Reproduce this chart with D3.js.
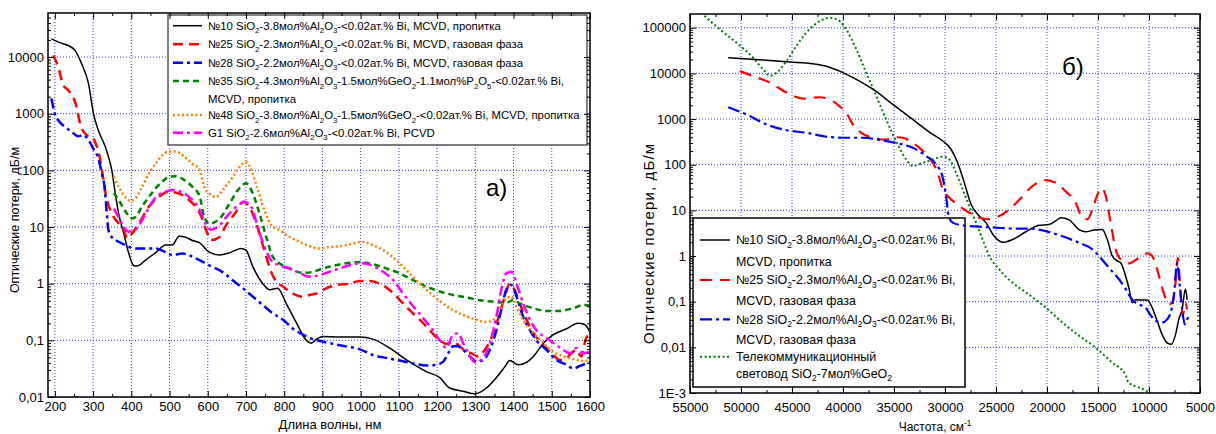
<!DOCTYPE html>
<html><head><meta charset="utf-8">
<script src="https://cdn.jsdelivr.net/npm/d3@7"></script>
<style>body{margin:0;background:#fff}svg{display:block}text{font-family:"Liberation Sans",Arial,sans-serif;fill:#000}</style>
</head><body><svg id="c" width="1216" height="434"></svg>
<script>
// ---------------- DATA: left panel (wavelength nm, loss dB/m) ----------------
const L_no10 = [[191,21000],[213,18000],[235,16000],[253,13000],[270,7600],[288,3400],[301,1000],[314,500],[332,260],[340,175],[349,100],[358,39],[367,17],[380,7.8],[393,3.5],[406,2.1],[415,2.05],[437,2.6],[463,3.5],[490,4.8],[507,4.8],[525,6.9],[542,6.6],[560,5.8],[578,5.3],[604,3.6],[631,3.2],[657,3.5],[687,4.2],[700,3.9],[718,2.0],[744,1.0],[762,0.78],[783,0.83],[805,0.45],[831,0.21],[858,0.10],[871,0.089],[884,0.105],[901,0.117],[945,0.114],[997,0.114],[1032,0.105],[1076,0.073],[1120,0.045],[1172,0.028],[1207,0.022],[1233,0.0144],[1268,0.0126],[1299,0.0114],[1329,0.0144],[1355,0.022],[1377,0.034],[1390,0.044],[1412,0.037],[1434,0.041],[1452,0.052],[1478,0.089],[1504,0.126],[1539,0.16],[1569,0.2],[1586,0.19],[1600,0.14]];
const L_no25 = [[196,10700],[209,6600],[222,3200],[235,2600],[257,1300],[266,670],[283,420],[297,390],[310,260],[319,150],[327,67],[336,30],[345,20],[354,15],[367,11.6],[380,8.9],[389,6.3],[402,7.7],[420,11.6],[446,23],[472,34],[498,42],[525,39],[551,30],[568,23],[582,16],[596,8.7],[609,5.9],[631,6.7],[648,10.8],[674,18.5],[692,28],[709,22.5],[727,11.5],[740,5.9],[753,3.0],[766,1.6],[779,1.09],[797,0.89],[814,0.73],[831,0.63],[849,0.59],[866,0.63],[884,0.67],[910,0.83],[936,0.95],[971,1.0],[997,1.12],[1024,1.12],[1050,1.0],[1076,0.77],[1102,0.52],[1128,0.34],[1155,0.23],[1181,0.15],[1207,0.10],[1224,0.087],[1242,0.095],[1259,0.078],[1277,0.063],[1290,0.059],[1307,0.052],[1325,0.068],[1347,0.134],[1364,0.3],[1377,0.59],[1390,1.0],[1403,0.77],[1416,0.45],[1434,0.23],[1452,0.134],[1469,0.095],[1486,0.073],[1504,0.055],[1521,0.045],[1539,0.049],[1551,0.059],[1564,0.068],[1577,0.052],[1590,0.11],[1600,0.126]];
const L_no28 = [[191,1850],[200,1000],[213,710],[226,590],[244,480],[261,400],[275,420],[288,340],[301,240],[314,160],[323,88],[330,51],[336,17],[340,8.9],[349,6.6],[367,5.5],[384,4.8],[411,4.2],[437,4.2],[463,4.2],[490,3.6],[507,3.2],[534,3.4],[569,2.8],[604,2.1],[639,1.6],[665,1.15],[692,0.83],[718,0.59],[744,0.42],[770,0.3],[797,0.23],[823,0.16],[849,0.126],[875,0.105],[901,0.095],[927,0.087],[962,0.078],[997,0.07],[1032,0.055],[1067,0.049],[1102,0.044],[1137,0.039],[1172,0.036],[1198,0.037],[1216,0.042],[1229,0.059],[1242,0.079],[1255,0.079],[1268,0.068],[1286,0.052],[1303,0.042],[1321,0.045],[1338,0.068],[1355,0.15],[1368,0.35],[1381,0.78],[1394,0.95],[1408,0.59],[1425,0.26],[1443,0.15],[1460,0.10],[1486,0.068],[1512,0.045],[1539,0.037],[1556,0.032],[1573,0.035],[1590,0.039],[1600,0.041]];
const L_no35 = [[354,40],[367,30],[380,21],[393,16],[402,14.2],[411,15],[428,23],[446,34],[463,48],[481,63],[498,77],[516,79],[538,68],[560,51],[578,36],[591,15],[604,11.5],[631,14],[657,26],[679,45],[700,59],[718,39],[735,17.5],[753,6.7],[770,3.0],[797,2.1],[823,1.75],[849,1.55],[875,1.62],[901,1.86],[927,2.05],[962,2.3],[997,2.4],[1032,2.2],[1067,1.86],[1102,1.52],[1137,1.16],[1172,0.89],[1207,0.73],[1242,0.63],[1277,0.57],[1312,0.51],[1347,0.48],[1381,0.46],[1399,0.51],[1416,0.45],[1451,0.37],[1486,0.33],[1521,0.33],[1556,0.37],[1582,0.42],[1600,0.41]];
const L_no48 = [[354,77],[367,51],[384,34],[398,29],[411,32],[428,51],[446,88],[463,130],[481,185],[498,215],[516,215],[538,175],[560,130],[578,105],[591,51],[604,39],[622,34],[639,45],[665,76],[687,123],[700,140],[714,100],[731,45],[748,20],[766,10.8],[788,8.8],[814,6.7],[840,5.5],[866,4.6],[892,4.2],[918,4.4],[945,4.6],[980,5.1],[1002,5.5],[1024,5.0],[1059,3.9],[1093,2.6],[1128,1.52],[1163,0.89],[1198,0.55],[1233,0.37],[1268,0.28],[1303,0.23],[1329,0.21],[1347,0.23],[1364,0.35],[1381,0.55],[1394,0.59],[1408,0.39],[1425,0.23],[1452,0.134],[1478,0.089],[1504,0.063],[1530,0.052],[1556,0.047],[1582,0.043],[1600,0.045]];
const L_g1 = [[354,21],[367,15],[380,10],[393,8.3],[406,8.5],[420,10.7],[437,17],[455,28],[472,37],[490,42],[507,45],[529,42],[551,34],[570,25],[582,18],[596,10.8],[609,9],[631,10.8],[657,17.5],[679,24],[696,28],[714,22.5],[731,10],[748,4.5],[766,2.6],[788,2.1],[814,1.86],[840,1.55],[866,1.32],[892,1.41],[918,1.62],[945,1.86],[980,2.2],[1006,2.3],[1032,2.05],[1059,1.62],[1085,1.15],[1111,0.67],[1137,0.4],[1163,0.25],[1189,0.15],[1207,0.10],[1224,0.073],[1242,0.126],[1255,0.134],[1268,0.089],[1286,0.052],[1299,0.041],[1321,0.049],[1338,0.089],[1355,0.26],[1368,0.78],[1381,1.52],[1394,1.62],[1408,1.0],[1425,0.45],[1443,0.23],[1460,0.15],[1486,0.11],[1512,0.083],[1530,0.068],[1547,0.059],[1564,0.073],[1582,0.059],[1600,0.063]];

// ---------------- DATA: right panel (frequency cm-1, loss dB/m) ----------------
const R_no10 = [[51250,22000],[47830,19600],[45220,17800],[42940,16300],[41630,14400],[40330,11200],[38700,7400],[37070,4500],[35110,2100],[33160,980],[31530,520],[30220,330],[29410,218],[28760,110],[28100,40],[27450,13.6],[26800,8.2],[25990,5.4],[25170,2.7],[24360,2.0],[23380,2.3],[22070,3.4],[20770,4.7],[19790,4.9],[19140,5.9],[18650,6.9],[17840,6.2],[16860,3.8],[16210,3.4],[15390,3.7],[14580,3.8],[14090,2.3],[13600,1.0],[13110,0.78],[12780,0.71],[12290,0.36],[11970,0.2],[11640,0.095],[11320,0.11],[10830,0.109],[10170,0.109],[9690,0.074],[9200,0.038],[8710,0.019],[8220,0.0126],[7800,0.0117],[7400,0.019],[7080,0.041],[6750,0.068],[6430,0.19],[6260,0.11]];
const R_no25 = [[50110,11200],[48800,8700],[47170,6300],[45540,3800],[43910,2800],[42280,3000],[41300,2700],[40330,1900],[39680,1370],[39030,760],[38210,500],[37070,390],[35770,355],[34790,400],[34130,390],[33160,300],[32180,200],[31200,110],[30710,66],[30220,29],[29570,19],[28590,12.4],[27620,8.9],[26640,6.9],[25660,6.4],[24680,7.5],[23700,10.5],[22730,17],[21420,34],[20120,46],[19140,40],[18160,26],[17180,14.6],[16530,6.9],[16040,6.4],[15550,10.5],[15060,22],[14640,31],[14250,21],[13760,5.4],[13270,1.4],[12780,0.85],[11970,0.69],[10990,0.91],[10170,1.14],[9690,1.0],[9200,0.51],[8710,0.2],[8320,0.11],[8060,0.087],[7730,0.095],[7400,0.26],[7170,0.91],[6910,0.16],[6690,0.049],[6430,0.095],[6260,0.068]];
const R_no28 = [[51250,1820],[49460,1260],[47500,760],[45540,570],[43590,500],[41630,410],[39680,390],[38050,390],[36420,350],[34790,300],[33160,235],[31850,155],[30870,102],[30220,52],[29890,20],[29640,7.5],[29250,5.4],[28270,4.7],[26640,4.4],[25010,4.2],[23380,4.0],[21750,4.0],[20120,3.5],[18490,2.7],[16860,1.95],[15550,1.4],[14740,0.91],[13920,0.55],[12940,0.31],[12290,0.19],[11640,0.11],[10990,0.087],[10340,0.074],[9950,0.055],[9360,0.038],[8710,0.035],[8220,0.041],[7890,0.057],[7570,0.13],[7240,0.71],[7010,0.26],[6750,0.068],[6490,0.032],[6260,0.041],[5940,0.052]];
const R_tele = [[54500,300000],[53700,195000],[52070,92000],[50440,47000],[48810,22000],[47830,12300],[47170,8900],[46520,10300],[45540,18600],[44570,40000],[43590,78000],[42280,140000],[41300,165000],[40330,140000],[39680,92000],[38700,34000],[37720,10300],[36740,3200],[35770,980],[34790,330],[33810,130],[33160,94],[32180,110],[31200,130],[30220,150],[29570,130],[28920,67],[28270,29],[27620,12.4],[26960,5.4],[26310,2.3],[25660,1.0],[24680,0.51],[23380,0.26],[22070,0.16],[20120,0.074],[18490,0.035],[16860,0.018],[15230,0.0098],[13600,0.0046],[12290,0.0025],[12040,0.0017],[10500,0.0012],[9900,0.001],[8000,0.0006],[6500,0.0006],[5900,0.0009],[5750,0.00115]];

// ---------------- tick labels & legend texts ----------------
const L_xTicks = [200,300,400,500,600,700,800,900,1000,1100,1200,1300,1400,1500,1600];
const L_yTicks = [0.01,0.1,1,10,100,1000,10000];
const L_yTickLabels = ["0,01","0,1","1","10","100","1000","10000"];
const R_xTicks = [55000,50000,45000,40000,35000,30000,25000,20000,15000,10000,5000];
const R_yTicks = [0.001,0.01,0.1,1,10,100,1000,10000,100000];
const R_yTickLabels = ["1E-3","0,01","0,1","1","10","100","1000","10000","100000"];
const L_legend = [
  "№10 SiO_{2}-3.8мол%Al_{2}O_{3}-<0.02ат.% Bi, MCVD, пропитка",
  "№25 SiO_{2}-2.3мол%Al_{2}O_{3}-<0.02ат.% Bi, MCVD, газовая фаза",
  "№28 SiO_{2}-2.2мол%Al_{2}O_{3}-<0.02ат.% Bi, MCVD, газовая фаза",
  "№35 SiO_{2}-4.3мол%Al_{2}O_{3}-1.5мол%GeO_{2}-1.1мол%P_{2}O_{5}-<0.02ат.% Bi,",
  "MCVD, пропитка",
  "№48 SiO_{2}-3.8мол%Al_{2}O_{3}-1.5мол%GeO_{2}-<0.02ат.% Bi, MCVD, пропитка",
  "G1 SiO_{2}-2.6мол%Al_{2}O_{3}-<0.02ат.% Bi, PCVD"];
const R_legend = [
  "№10 SiO_{2}-3.8мол%Al_{2}O_{3}-<0.02ат.% Bi,",
  "MCVD, пропитка",
  "№25 SiO_{2}-2.3мол%Al_{2}O_{3}-<0.02ат.% Bi,",
  "MCVD, газовая фаза",
  "№28 SiO_{2}-2.2мол%Al_{2}O_{3}-<0.02ат.% Bi,",
  "MCVD, газовая фаза",
  "Телекоммуникационный",
  "световод SiO_{2}-7мол%GeO_{2}"];

// ---------------- styles ----------------
const ST = {
  black:  {stroke:"#000000", w:1.5, dash:null},
  red:    {stroke:"#ff0000", w:2.5, dash:"10,6"},
  blue:   {stroke:"#0000ff", w:2.5, dash:"10,4,3,4"},
  green:  {stroke:"#008000", w:2.5, dash:"6,4"},
  orange: {stroke:"#ff8000", w:2.5, dash:"2,2.5"},
  magenta:{stroke:"#ff00ff", w:2.5, dash:"10,4,3,4"},
  rred:   {stroke:"#ff0000", w:2.2, dash:"12,8"},
  rblue:  {stroke:"#0000ff", w:2.2, dash:"12,4,3,4"},
  rgreen: {stroke:"#008000", w:2, dash:"2,2.5"}
};

const svg = d3.select("#c");
svg.append("rect").attr("width",1216).attr("height",434).attr("fill","#fff");
const defs = svg.append("defs");

function rich(t, str, fs){
  const parts = str.match(/_\{[^}]*\}|\^\{[^}]*\}|[^_^]+/g);
  let off = 0;
  parts.forEach(p=>{
    let target=0, s=p, size=fs;
    if(p.startsWith("_{")){ s=p.slice(2,-1); target=fs*0.3; size=fs*0.68; }
    else if(p.startsWith("^{")){ s=p.slice(2,-1); target=-fs*0.42; size=fs*0.68; }
    t.append("tspan").attr("dy", (target-off).toFixed(2)).style("font-size", size+"px").text(s);
    off = target;
  });
}
function styleLine(sel, st){
  sel.attr("fill","none").attr("stroke",st.stroke).attr("stroke-width",st.w)
     .attr("stroke-linejoin","round");
  if(st.dash) sel.attr("stroke-dasharray", st.dash);
}
function minors(lo, hi){
  const out=[];
  for(let e=Math.floor(Math.log10(lo)); e<=Math.ceil(Math.log10(hi)); e++)
    for(let m=2;m<=9;m++){ const v=m*Math.pow(10,e); if(v>lo && v<hi) out.push(v); }
  return out;
}

function panel(cfg){
  const x=cfg.x, y=cfg.y;
  const X0=Math.min(...x.range()), X1=Math.max(...x.range());
  const Yb=y.range()[0], Yt=y.range()[1];
  defs.append("clipPath").attr("id",cfg.id).append("rect")
    .attr("x",X0).attr("y",Yt).attr("width",X1-X0).attr("height",Yb-Yt);
  const g = svg.append("g");
  const grid = g.append("g").attr("stroke","#3a3aff").attr("stroke-width",1).attr("stroke-dasharray","1,2");
  cfg.xTicks.forEach(v=>grid.append("line").attr("x1",x(v)).attr("x2",x(v)).attr("y1",Yt).attr("y2",Yb));
  cfg.yTicks.forEach(v=>grid.append("line").attr("x1",X0).attr("x2",X1).attr("y1",y(v)).attr("y2",y(v)));
  const lb = cfg.legend;
  g.append("rect").attr("x",lb.x).attr("y",lb.y).attr("width",lb.w).attr("height",lb.h)
    .attr("fill","#fff").attr("stroke",lb.border).attr("stroke-width",lb.bw);
  const line = d3.line().x(d=>x(d[0])).y(d=>y(d[1])).curve(d3.curveMonotoneX);
  const cg = g.append("g").attr("clip-path",`url(#${cfg.id})`);
  cfg.series.forEach(s=>{
    const data = s.data.slice().sort((a,b)=>x(a[0])-x(b[0]));
    styleLine(cg.append("path").attr("d",line(data)), s.st);
  });
  lb.rows.forEach(r=>{
    if(r.st){
      styleLine(g.append("line").attr("x1",lb.sx0).attr("x2",lb.sx1).attr("y1",r.y).attr("y2",r.y), r.st);
    }
    const t = g.append("text").attr("x",lb.tx).attr("y",r.y+lb.fs*0.36).style("font-size",lb.fs+"px");
    rich(t, r.text, lb.fs);
  });
  const fs = 13;
  const ax = (gen, tx, ty)=>{
    const a = g.append("g").attr("transform",`translate(${tx},${ty})`).call(gen);
    a.select(".domain").remove();
    a.attr("font-family",null).attr("font-size",null);
    a.selectAll("text").style("font-size",fs+"px");
    a.selectAll("line").attr("stroke","#000").attr("stroke-width",1);
    return a;
  };
  const yLab = d3.scaleOrdinal().domain(cfg.yTicks).range(cfg.yLabels);
  ax(d3.axisBottom(x).tickValues(cfg.xTicks).tickSize(-6).tickPadding(cfg.xPad).tickFormat(d=>String(d)), 0, Yb);
  ax(d3.axisBottom(x).tickValues(cfg.xMinor).tickSize(-3).tickFormat(""), 0, Yb);
  ax(d3.axisTop(x).tickValues(cfg.xTicks).tickSize(-6).tickFormat(""), 0, Yt);
  ax(d3.axisTop(x).tickValues(cfg.xMinor).tickSize(-3).tickFormat(""), 0, Yt);
  ax(d3.axisLeft(y).tickValues(cfg.yTicks).tickSize(-6).tickPadding(4).tickFormat(d=>yLab(d)), X0, 0);
  ax(d3.axisLeft(y).tickValues(cfg.yMinor).tickSize(-3).tickFormat(""), X0, 0);
  ax(d3.axisRight(y).tickValues(cfg.yTicks).tickSize(-6).tickFormat(""), X1, 0);
  ax(d3.axisRight(y).tickValues(cfg.yMinor).tickSize(-3).tickFormat(""), X1, 0);
  g.append("rect").attr("x",X0).attr("y",Yt).attr("width",X1-X0).attr("height",Yb-Yt)
    .attr("fill","none").attr("stroke","#000").attr("stroke-width",1.5);
  const tx = g.append("text").attr("x",cfg.xt[0]).attr("y",cfg.xt[1]).attr("text-anchor","middle").style("font-size",cfg.xt[2]+"px");
  rich(tx, cfg.xTitle, cfg.xt[2]);
  const yt = g.append("text").attr("transform",`translate(${cfg.yt[0]},${cfg.yt[1]}) rotate(-90)`)
    .attr("text-anchor","middle").style("font-size",cfg.yt[2]+"px").text(cfg.yTitle);
  if(cfg.yt[3]) yt.attr("textLength",cfg.yt[3]).attr("lengthAdjust","spacing");
  g.append("text").attr("x",cfg.tag[0]).attr("y",cfg.tag[1]).style("font-size",cfg.tag[2]+"px").text(cfg.tagText);
}

// ---- left panel ----
panel({
  id:"clipL",
  x: d3.scaleLinear().domain([182,1600]).range([48,590]),
  y: d3.scaleLog().domain([0.01,60000]).range([397,13]),
  xTicks: L_xTicks, xMinor: d3.range(250,1600,100), xPad:5,
  yTicks: L_yTicks, yLabels: L_yTickLabels, yMinor: minors(0.01,60000),
  series:[{data:L_no10,st:ST.black},{data:L_no25,st:ST.red},{data:L_no28,st:ST.blue},
          {data:L_no35,st:ST.green},{data:L_no48,st:ST.orange},{data:L_g1,st:ST.magenta}],
  legend:{x:168,y:15,w:419,h:130,border:"#555",bw:1.5,sx0:173,sx1:202,tx:208,fs:11.4,
    rows:[{y:25.7,st:ST.black,text:L_legend[0]},{y:44.3,st:ST.red,text:L_legend[1]},
          {y:62.7,st:ST.blue,text:L_legend[2]},{y:81,st:ST.green,text:L_legend[3]},
          {y:99.3,st:null,text:L_legend[4]},{y:115,st:ST.orange,text:L_legend[5]},
          {y:132.7,st:ST.magenta,text:L_legend[6]}]},
  xTitle:"Длина волны, нм", xt:[330,429,13],
  yTitle:"Оптические потери, дБ/м", yt:[19,220,12.5],
  tag:[486,196,24], tagText:"а)"
});

// ---- right panel ----
panel({
  id:"clipR",
  x: d3.scaleLinear().domain([55000,5000]).range([690,1200]),
  y: d3.scaleLog().domain([0.001,200000]).range([393,14]),
  xTicks: R_xTicks, xMinor: d3.range(52500,5000,-5000), xPad:10,
  yTicks: R_yTicks, yLabels: R_yTickLabels, yMinor: minors(0.001,200000),
  series:[{data:R_tele,st:ST.rgreen},{data:R_no10,st:ST.black},{data:R_no25,st:ST.rred},{data:R_no28,st:ST.rblue}],
  legend:{x:693,y:218,w:272,h:169,border:"#000",bw:1.5,sx0:700,sx1:730,tx:736,fs:12.4,
    rows:[{y:240,st:ST.black,text:R_legend[0]},{y:261.7,st:null,text:R_legend[1]},
          {y:280,st:ST.rred,text:R_legend[2]},{y:300.7,st:null,text:R_legend[3]},
          {y:319.3,st:ST.rblue,text:R_legend[4]},{y:340,st:null,text:R_legend[5]},
          {y:356.7,st:ST.rgreen,text:R_legend[6]},{y:373.3,st:null,text:R_legend[7]}]},
  xTitle:"Частота, см^{-1}", xt:[935,431,12],
  yTitle:"Оптические потери, дБ/м", yt:[654,244,15,200],
  tag:[1062,75,24], tagText:"б)"
});
</script></body></html>
